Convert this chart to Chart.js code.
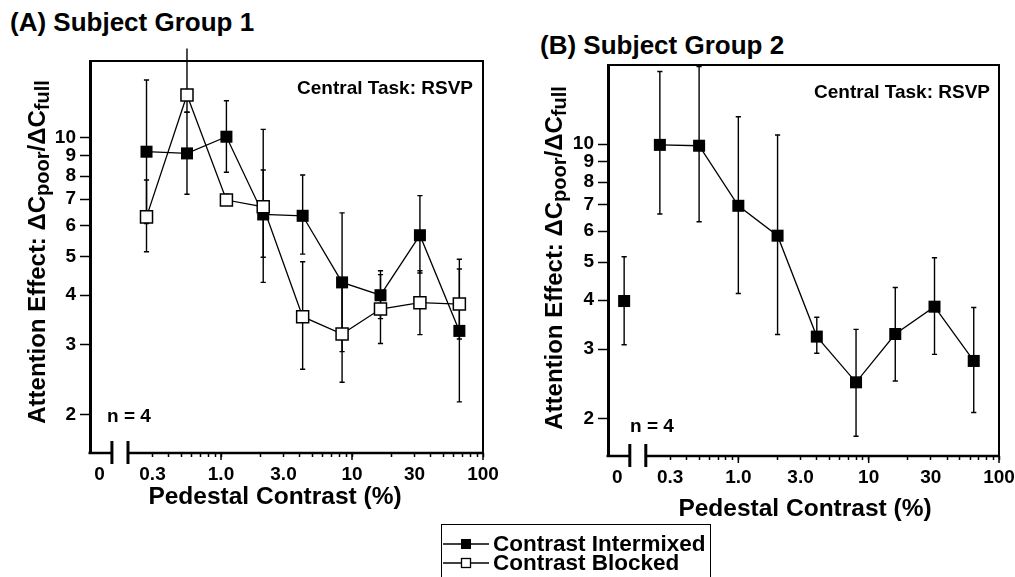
<!DOCTYPE html>
<html><head><meta charset="utf-8">
<script src="https://cdn.jsdelivr.net/npm/chart.js@4.4.0/dist/chart.umd.min.js"></script>
<style>
html,body{margin:0;padding:0;background:#fff;width:1015px;height:577px;overflow:hidden;font-family:"Liberation Sans",Arial,sans-serif;}
.t{position:absolute;font-weight:bold;font-size:26px;line-height:30px;white-space:nowrap;color:#000;}
canvas{position:absolute;top:0;}
#cA{left:0;}
#cB{left:510px;}
#legend{position:absolute;left:441px;top:524px;width:270px;height:70px;border:1.5px solid #000;border-bottom:none;box-sizing:border-box;}
.row{position:absolute;left:1px;height:20px;line-height:20px;display:flex;align-items:center;font-weight:bold;font-size:22.5px;white-space:nowrap;color:#000;}
.row svg{margin-right:4px;flex:none;}
</style></head>
<body>
<div class="t" style="left:10px;top:7px">(A) Subject Group 1</div>
<div class="t" style="left:540px;top:30px">(B) Subject Group 2</div>
<canvas id="cA" width="510" height="530"></canvas>
<canvas id="cB" width="505" height="530"></canvas>
<div id="legend">
  <div class="row" style="top:9px"><svg width="46" height="14"><line x1="0" y1="7" x2="46" y2="7" stroke="#000" stroke-width="1.3"/><rect x="18" y="2" width="10" height="10" fill="#000"/></svg><span>Contrast Intermixed</span></div>
  <div class="row" style="top:28px"><svg width="46" height="14"><line x1="0" y1="7" x2="46" y2="7" stroke="#000" stroke-width="1.3"/><rect x="18.5" y="2.5" width="9" height="9" fill="#fff" stroke="#000" stroke-width="1.3"/></svg><span>Contrast Blocked</span></div>
</div>
<script>
// ---------------- DATA ----------------
const contrastA = [0.27, 0.55, 1.1, 2.1, 4.2, 8.4, 16.5, 33, 66];
const intermixedA = [9.22, 9.13, 10.06, 6.40, 6.35, 4.31, 4.00, 5.67, 3.25];
const intermixedA_lo = [6.07, 7.2, 8.18, 4.99, 5.08, 2.88, 3.49, 4.55, 2.15];
const intermixedA_hi = [14.0, 11.6, 12.4, 8.29, 8.05, 6.46, 4.61, 7.14, 4.93];
const blockedA = [6.31, 12.82, 6.96, 6.69, 3.53, 3.19, 3.69, 3.83, 3.80];
const blockedA_lo = [5.15, 11.6, 6.75, 4.31, 2.60, 2.41, 3.02, 3.18, 3.10];
const blockedA_hi = [7.82, 16.8, 7.2, 10.5, 4.86, 4.22, 4.51, 4.61, 4.66];

const contrastB = [0, 0.25, 0.5, 1, 2, 4, 8, 16, 32, 64];
const intermixedB = [3.98, 9.95, 9.90, 6.96, 5.84, 3.23, 2.47, 3.28, 3.85, 2.80];
const intermixedB_lo = [3.08, 6.63, 6.34, 4.16, 3.27, 2.93, 1.80, 2.49, 2.91, 2.07];
const intermixedB_hi = [5.16, 15.3, 15.75, 11.74, 10.54, 3.62, 3.37, 4.31, 5.13, 3.83];

const yTickValues = [2, 3, 4, 5, 6, 7, 8, 9, 10];
const xTickValues = [0.3,0.4,0.5,0.6,0.7,0.8,0.9,1,2,3,4,5,6,7,8,9,10,20,30,40,50,60,70,80,90,100];
const xTickLabels = {'0.3':'0.3','1':'1.0','3':'3.0','10':'10','30':'30','100':'100'};
const xMajorTicks = [1, 10, 100];

// display mapping for the broken "0" position on the log axis
const ZERO_POINT_X = 0.133, ZERO_TICK_X = 0.118;
const BREAK1 = 0.147, BREAK2 = 0.195;

const FONT = '"Liberation Sans", Arial, Helvetica, sans-serif';

function pts(xs, ys, skipZero) {
  const out = [];
  xs.forEach((x, i) => { if (skipZero && x === 0) return; out.push({x: x === 0 ? ZERO_POINT_X : x, y: ys[i]}); });
  return out;
}
function sub(arr, xs, skipZero, onlyZero) {
  return arr.filter((v, i) => onlyZero ? xs[i] === 0 : !(skipZero && xs[i] === 0));
}

const decor = {
  id: 'decor',
  beforeDatasetsDraw(chart) {
    const ctx = chart.ctx, xs = chart.scales.x, ys = chart.scales.y;
    ctx.save();
    ctx.strokeStyle = '#000';
    ctx.lineWidth = 1.4;
    chart.data.datasets.forEach(ds => {
      if (!ds.errLo) return;
      ds.data.forEach((p, j) => {
        const px = xs.getPixelForValue(p.x);
        const yl = ys.getPixelForValue(ds.errLo[j]);
        const yh = ys.getPixelForValue(ds.errHi[j]);
        ctx.beginPath();
        ctx.moveTo(px, yl); ctx.lineTo(px, yh);
        ctx.moveTo(px - 2.6, yl); ctx.lineTo(px + 2.6, yl);
        if (ds.errHi[j] <= ys.max) { ctx.moveTo(px - 2.6, yh); ctx.lineTo(px + 2.6, yh); }
        ctx.stroke();
      });
    });
    ctx.restore();
  },
  afterDraw(chart, args, o) {
    const ctx = chart.ctx, xs = chart.scales.x, a = chart.chartArea;
    ctx.save();
    ctx.strokeStyle = '#000';
    // top & right frame
    ctx.lineWidth = 2;
    ctx.beginPath();
    ctx.moveTo(a.left, a.top); ctx.lineTo(a.right + 1, a.top);
    ctx.moveTo(a.right, a.top); ctx.lineTo(a.right, a.bottom);
    ctx.stroke();
    // bottom axis with break
    const y0 = a.bottom;
    const b1 = xs.getPixelForValue(BREAK1), b2 = xs.getPixelForValue(BREAK2);
    ctx.lineWidth = 2.5;
    ctx.beginPath();
    ctx.moveTo(a.left - 1.5, y0); ctx.lineTo(b1, y0);
    ctx.moveTo(b2, y0); ctx.lineTo(a.right + 1, y0);
    ctx.stroke();
    ctx.lineWidth = 3;
    ctx.beginPath();
    ctx.moveTo(b1, y0 - 12); ctx.lineTo(b1, y0 + 11);
    ctx.moveTo(b2, y0 - 12); ctx.lineTo(b2, y0 + 11);
    ctx.stroke();
    // longer major ticks
    ctx.lineWidth = 1.5;
    ctx.beginPath();
    xMajorTicks.forEach(v => { const px = xs.getPixelForValue(v); ctx.moveTo(px, y0); ctx.lineTo(px, y0 + 7); });
    ctx.stroke();
    // annotations
    ctx.fillStyle = '#000';
    ctx.textBaseline = 'middle';
    ctx.font = 'bold 19px ' + FONT;
    ctx.textAlign = 'right';
    ctx.fillText('Central Task: RSVP', a.right - o.taskDx, a.top + o.taskDy);
    ctx.textAlign = 'left';
    ctx.fillText('n = 4', a.left + o.nDx, a.bottom - o.nDy);
    // x title
    ctx.font = 'bold 24.5px ' + FONT;
    ctx.textAlign = 'center';
    ctx.fillText('Pedestal Contrast (%)', o.xtX, o.xtY);
    // y title with subscripts
    const big = 'bold 24px ' + FONT, small = 'bold 20px ' + FONT;
    const parts = [['Attention Effect: \u0394C', big, 0], ['poor', small, 5], ['/\u0394C', big, 0], ['full', small, 5]];
    let total = 0;
    parts.forEach(p => { ctx.font = p[1]; p.w = ctx.measureText(p[0]).width; total += p.w; });
    ctx.translate(o.ytX, o.ytY);
    ctx.rotate(-Math.PI / 2);
    ctx.textAlign = 'left';
    let x = -total / 2;
    parts.forEach(p => { ctx.font = p[1]; ctx.fillText(p[0], x, p[2]); x += p.w; });
    ctx.restore();
  }
};

function makePanel(id, datasets, pad, yW, yMin, yMax, decorOpts) {
  return new Chart(document.getElementById(id), {
    type: 'line',
    data: { datasets },
    plugins: [decor],
    options: {
      responsive: false,
      animation: false,
      devicePixelRatio: 1,
      layout: { padding: pad },
      plugins: { legend: { display: false }, tooltip: { enabled: false }, title: { display: false }, decor: decorOpts },
      scales: {
        x: {
          type: 'logarithmic', min: 0.1, max: 100,
          afterBuildTicks: s => { s.ticks = [ZERO_TICK_X].concat(xTickValues).map(v => ({ value: v })); },
          afterFit: s => { s.height = 60; s.paddingLeft = 0; s.paddingRight = 0; },
          ticks: {
            autoSkip: false, maxRotation: 0, minRotation: 0, padding: 6, color: '#000',
            font: { family: FONT, weight: 'bold', size: 19 },
            callback: v => v === ZERO_TICK_X ? '0' : (xTickLabels[String(v)] || '')
          },
          grid: {
            drawOnChartArea: false, drawTicks: true, tickLength: 4, tickWidth: 1.5,
            tickColor: c => (c.tick && c.tick.value === ZERO_TICK_X) ? 'rgba(0,0,0,0)' : '#000'
          },
          border: { display: false }
        },
        y: {
          type: 'logarithmic', min: yMin, max: yMax,
          afterBuildTicks: s => { s.ticks = yTickValues.map(v => ({ value: v })); },
          afterFit: s => { s.width = yW; s.paddingTop = 0; s.paddingBottom = 0; },
          ticks: {
            autoSkip: false, padding: 4, color: '#000',
            font: { family: FONT, weight: 'bold', size: 19 },
            callback: v => String(v)
          },
          grid: { drawOnChartArea: false, drawTicks: true, tickLength: 10, tickWidth: 1.5, tickColor: '#000' },
          border: { display: true, width: 3, color: '#000' }
        }
      }
    }
  });
}

const lineStyle = { showLine: true, borderColor: '#000', borderWidth: 1.3, tension: 0, pointStyle: 'rect', pointRadius: 8.5, pointHoverRadius: 8.5, pointBorderColor: '#000', clip: false };

makePanel('cA', [
  Object.assign({}, lineStyle, { label: 'Contrast Blocked', data: pts(contrastA, blockedA), errLo: blockedA_lo, errHi: blockedA_hi,
    pointBackgroundColor: '#fff', pointBorderWidth: 1.5, order: 0 }),
  Object.assign({}, lineStyle, { label: 'Contrast Intermixed', data: pts(contrastA, intermixedA), errLo: intermixedA_lo, errHi: intermixedA_hi,
    pointBackgroundColor: '#000', pointBorderWidth: 0, order: 1 })
], { left: 0, top: 61, right: 27, bottom: 17 }, 90, 1.597, 15.63,
  { taskDx: 10, taskDy: 28, nDx: 17, nDy: 36, xtX: 275, xtY: 497, ytX: 38, ytY: 252 });

makePanel('cB', [
  Object.assign({}, lineStyle, { label: 'Contrast Intermixed', data: pts(contrastB, intermixedB, true),
    errLo: sub(intermixedB_lo, contrastB, true), errHi: sub(intermixedB_hi, contrastB, true),
    pointBackgroundColor: '#000', pointBorderWidth: 0, order: 1 }),
  Object.assign({}, lineStyle, { label: 'Contrast Intermixed (0%)', showLine: false,
    data: contrastB.map((x, i) => ({ x, y: intermixedB[i] })).filter(p => p.x === 0).map(p => ({ x: ZERO_POINT_X, y: p.y })),
    errLo: sub(intermixedB_lo, contrastB, false, true), errHi: sub(intermixedB_hi, contrastB, false, true),
    pointBackgroundColor: '#000', pointBorderWidth: 0, order: 1 })
], { left: 0, top: 65, right: 16, bottom: 14 }, 98, 1.603, 15.9,
  { taskDx: 9, taskDy: 28, nDx: 22, nDy: 29, xtX: 295, xtY: 509, ytX: 45, ytY: 258 });
</script>
</body></html>
